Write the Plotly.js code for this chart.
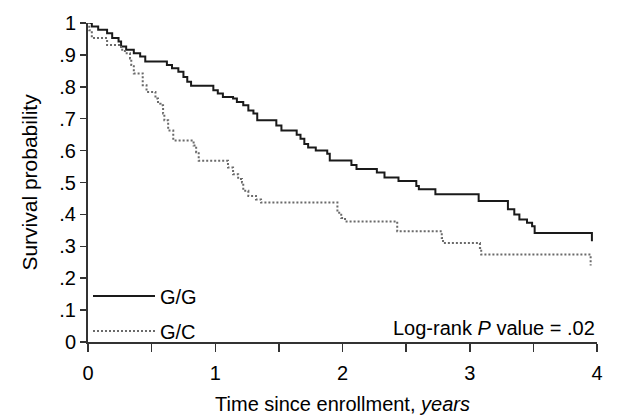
<!DOCTYPE html>
<html>
<head>
<meta charset="utf-8">
<script src="https://cdn.plot.ly/plotly-3.0.1.min.js"></script>
<style>html,body{margin:0;padding:0;background:#fff;}#chart{width:644px;height:416px;}</style>
</head>
<body>
<div id="chart"></div>
<script>
// G/G survival (Kaplan-Meier step points)
const ggTime = [0, 0.03, 0.08, 0.15, 0.19, 0.24, 0.26, 0.30, 0.36, 0.41, 0.45, 0.62, 0.66, 0.71, 0.75, 0.78, 0.81, 0.985, 1.02, 1.06, 1.14, 1.17, 1.22, 1.26, 1.30, 1.33, 1.48, 1.52, 1.64, 1.67, 1.70, 1.73, 1.79, 1.88, 1.90, 2.07, 2.11, 2.27, 2.33, 2.44, 2.58, 2.60, 2.73, 3.07, 3.30, 3.35, 3.39, 3.45, 3.49, 3.51, 3.96];
const ggSurv = [1, 0.989, 0.979, 0.968, 0.953, 0.942, 0.926, 0.916, 0.905, 0.895, 0.879, 0.868, 0.858, 0.847, 0.831, 0.816, 0.803, 0.789, 0.779, 0.768, 0.763, 0.752, 0.742, 0.726, 0.716, 0.695, 0.679, 0.663, 0.650, 0.637, 0.621, 0.610, 0.600, 0.590, 0.569, 0.555, 0.542, 0.531, 0.516, 0.505, 0.489, 0.479, 0.463, 0.442, 0.416, 0.400, 0.384, 0.374, 0.363, 0.342, 0.316];
// G/C survival
const gcTime = [0, 0.01, 0.03, 0.15, 0.26, 0.29, 0.33, 0.34, 0.36, 0.43, 0.46, 0.53, 0.55, 0.57, 0.59, 0.60, 0.63, 0.67, 0.83, 0.85, 0.87, 1.10, 1.14, 1.18, 1.21, 1.22, 1.26, 1.32, 1.36, 1.96, 1.99, 2.02, 2.43, 2.78, 2.79, 3.08, 3.09, 3.95];
const gcSurv = [1, 0.977, 0.953, 0.931, 0.916, 0.905, 0.889, 0.868, 0.842, 0.805, 0.784, 0.763, 0.747, 0.742, 0.716, 0.695, 0.663, 0.632, 0.616, 0.595, 0.568, 0.547, 0.526, 0.511, 0.500, 0.474, 0.458, 0.447, 0.437, 0.405, 0.389, 0.378, 0.347, 0.326, 0.310, 0.295, 0.274, 0.240];

const xTickVals = [0, 0.5, 1, 1.5, 2, 2.5, 3, 3.5, 4];
const xTickText = ['0', '', '1', '', '2', '', '3', '', '4'];
const yTickVals = [0, 0.1, 0.2, 0.3, 0.4, 0.5, 0.6, 0.7, 0.8, 0.9, 1];
const yTickText = ['0', '.1', '.2', '.3', '.4', '.5', '.6', '.7', '.8', '.9', '1'];

const FONT = 'Liberation Sans, Arial, sans-serif';

const traces = [
  {x: ggTime, y: ggSurv, name: 'G/G', legendgroup: 'gg', mode: 'lines', line: {shape: 'hv', color: '#1a1a1a', width: 2}, cliponaxis: false},
  {x: gcTime, y: gcSurv, name: 'G/C', legendgroup: 'gc', mode: 'lines', line: {shape: 'hv', color: '#6a6a6a', width: 2, dash: '2px,2px'}, cliponaxis: false}
];

const layout = {
  width: 644, height: 416,
  margin: {l: 88, r: 47, t: 23, b: 74},
  paper_bgcolor: '#fff', plot_bgcolor: '#fff',
  font: {family: FONT, size: 19, color: '#000'},
  xaxis: {
    range: [0, 4], tickvals: xTickVals, ticktext: xTickText,
    ticks: 'outside', ticklen: 8, tickwidth: 1.5, tickcolor: '#333',
    showline: true, linecolor: '#333', linewidth: 2, showgrid: false, zeroline: false,
    tickfont: {size: 20}, ticklabelstandoff: 4,
    title: {text: 'Time since enrollment, <i>years</i>', font: {size: 20}, standoff: 14}
  },
  yaxis: {
    range: [0, 1], tickvals: yTickVals, ticktext: yTickText,
    ticks: 'outside', ticklen: 6, tickwidth: 1.5, tickcolor: '#333',
    showline: true, linecolor: '#333', linewidth: 2, showgrid: false, zeroline: false,
    tickfont: {size: 20},
    title: {text: 'Survival probability', font: {size: 21}, standoff: 16}
  },
  showlegend: true,
  legend: {x: 0.0, y: 0.205, xanchor: 'left', yanchor: 'top', bgcolor: 'rgba(0,0,0,0)',
           font: {size: 20}, itemwidth: 62, traceorder: 'grouped', tracegroupgap: 6},
  annotations: [
    {xref: 'paper', yref: 'y', x: 1, y: 0.045, xanchor: 'right', yanchor: 'middle',
     text: 'Log-rank <i>P</i> value = .02', showarrow: false, font: {size: 20}}
  ]
};

Plotly.newPlot('chart', traces, layout, {staticPlot: true, displayModeBar: false});
</script>
</body>
</html>
